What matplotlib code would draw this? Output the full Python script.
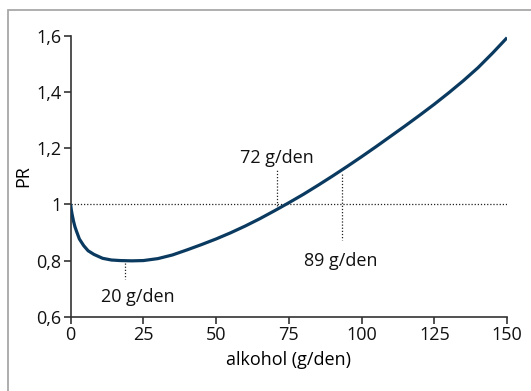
import matplotlib.pyplot as plt
from matplotlib.patches import Rectangle

# PR curve
alcohol = [0, 0.25, 0.5, 1, 1.5, 2, 3, 4.5, 6, 8, 11, 14, 17, 21, 25, 30, 35, 40, 45,
           50, 55, 60, 65, 70, 75, 80, 85, 90, 95, 100, 105, 110, 115, 120, 125, 130,
           135, 140, 145, 150]
pr = [1.0, 0.98, 0.965, 0.94, 0.92, 0.905, 0.877, 0.853, 0.835, 0.822, 0.808, 0.802,
      0.80, 0.799, 0.80, 0.807, 0.82, 0.838, 0.857, 0.877, 0.899, 0.923, 0.949, 0.977,
      1.006, 1.036, 1.068, 1.101, 1.135, 1.17, 1.206, 1.243, 1.28, 1.318, 1.357, 1.398,
      1.441, 1.487, 1.539, 1.594]

# marked points: (x of dotted line, y from, y to, label, label x, label y)
marks = [
    (18.8, 0.79, 0.735, '20 g/den', 23, 0.67),
    (70.9, 0.985, 1.125, '72 g/den', 71, 1.167),
    (93.2, 1.11, 0.874, '89 g/den', 93, 0.80),
]

plt.rcParams['font.family'] = ['Open Sans', 'DejaVu Sans']

fig = plt.figure(figsize=(5.31, 3.91), dpi=100)
fig.patches.append(Rectangle((7.5 / 531, -0.1), 1.2, 1 - 9.5 / 391 + 0.1,
                             transform=fig.transFigure, fill=False,
                             edgecolor='#a8a8a8', linewidth=1.3))
ax = fig.add_axes([0.133, 0.19, 0.822, 0.718])

dots = (0, (1, 1.5))
ax.axhline(1, color='#222222', linestyle=dots, linewidth=0.9)
for x, y0, y1, label, lx, ly in marks:
    ax.plot([x, x], [y0, y1], color='#222222', linestyle=dots, linewidth=0.9)
    ax.text(lx, ly, label, ha='center', va='center', fontsize=13, color='#111111')

ax.plot(alcohol, pr, color='#0b3a60', linewidth=2.3, solid_capstyle='butt',
        solid_joinstyle='round', zorder=3)

ax.set_xlim(0, 150)
ax.set_ylim(0.6, 1.6)
ax.set_xticks([0, 25, 50, 75, 100, 125, 150])
ax.set_yticks([0.6, 0.8, 1.0, 1.2, 1.4, 1.6])
ax.set_yticklabels(['0,6', '0,8', '1', '1,2', '1,4', '1,6'])
ax.spines['top'].set_visible(False)
ax.spines['right'].set_visible(False)
for s in ('left', 'bottom'):
    ax.spines[s].set_color('#333333')
    ax.spines[s].set_linewidth(1.2)
ax.tick_params(direction='out', length=5, width=1.2, color='#333333',
               labelsize=13, labelcolor='#111111', pad=1.5)
ax.set_xlabel('alkohol (g/den)', fontsize=13, labelpad=5)
ax.set_ylabel('PR', fontsize=13, labelpad=3)

fig.savefig('out.png', dpi=100)
